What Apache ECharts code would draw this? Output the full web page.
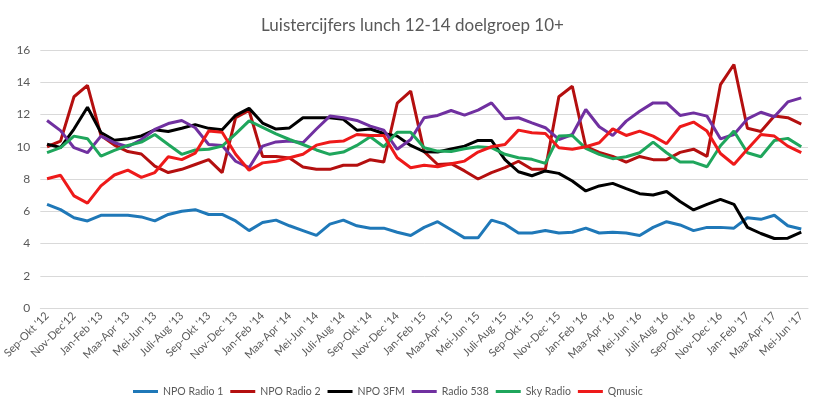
<!DOCTYPE html>
<html>
<head>
<meta charset="utf-8">
<script src="https://cdn.jsdelivr.net/npm/echarts@6/dist/echarts.min.js"></script>
<style>
  html, body { margin: 0; padding: 0; background: #fff; }
  #chart { width: 825px; height: 399px; }
</style>
</head>
<body>
<div id="chart"></div>
<script>
const categories = [
  "Sep-Okt '12", "Okt-Nov '12", "Nov-Dec'12", "Dec-Jan '13", "Jan-Feb '13", "Feb-Maa '13",
  "Maa-Apr '13", "Apr-Mei '13", "Mei-Jun '13", "Jun-Juli '13", "Juli-Aug '13", "Aug-Sep '13",
  "Sep-Okt '13", "Okt-Nov '13", "Nov-Dec '13", "Dec-Jan '14", "Jan-Feb '14", "Feb-Maa '14",
  "Maa-Apr '14", "Apr-Mei '14", "Mei-Jun '14", "Jun-Juli '14", "Juli-Aug '14", "Aug-Sep '14",
  "Sep-Okt '14", "Okt-Nov '14", "Nov-Dec '14", "Dec-Jan '15", "Jan-Feb '15", "Feb-Maa '15",
  "Maa-Apr '15", "Apr-Mei '15", "Mei-Jun '15", "Jun-Juli '15", "Juli-Aug '15", "Aug-Sep '15",
  "Sep-Okt '15", "Okt-Nov '15", "Nov-Dec '15", "Dec-Jan '16", "Jan-Feb '16", "Feb-Maa '16",
  "Maa-Apr '16", "Apr-Mei '16", "Mei-Jun '16", "Jun-Juli '16", "Juli-Aug '16", "Aug-Sep '16",
  "Sep-Okt '16", "Okt-Nov '16", "Nov-Dec '16", "Dec-Jan '17", "Jan-Feb '17", "Feb-Maa '17",
  "Maa-Apr '17", "Apr-Mei '17", "Mei-Jun '17"
]

const radio1 = [
  6.43, 6.1, 5.6, 5.4, 5.75, 5.75, 5.75, 5.65, 5.4, 5.8, 6.0, 6.1, 5.8, 5.8, 5.4, 4.8,
  5.3, 5.45, 5.1, 4.8, 4.5, 5.2, 5.45, 5.1, 4.95, 4.95, 4.7, 4.5, 5.0, 5.35, 4.85, 4.35,
  4.35, 5.45, 5.2, 4.65, 4.65, 4.8, 4.65, 4.7, 4.95, 4.65, 4.7, 4.65, 4.5, 5.0, 5.35, 5.15,
  4.8, 5.0, 5.0, 4.95, 5.6, 5.5, 5.75, 5.1, 4.9
]
const radio2 = [
  10.0, 10.35, 13.1, 13.8, 10.7, 10.1, 9.7, 9.55, 8.8, 8.4, 8.6, 8.9, 9.2, 8.4, 11.8, 12.25,
  9.4, 9.4, 9.3, 8.75, 8.6, 8.6, 8.85, 8.85, 9.2, 9.05, 12.7, 13.45, 9.7, 8.9, 8.95, 8.5,
  8.0, 8.4, 8.7, 9.1, 8.6, 8.6, 13.1, 13.75, 10.0, 9.65, 9.4, 9.05, 9.4, 9.2, 9.2, 9.65,
  9.85, 9.4, 13.85, 15.1, 11.15, 10.95, 11.9, 11.8, 11.4
]
const npo3fm = [
  10.16, 9.95, 11.1, 12.45, 10.88, 10.4, 10.5, 10.67, 11.05, 10.95, 11.15, 11.37, 11.14, 11.06, 11.95, 12.38,
  11.47, 11.1, 11.17, 11.8, 11.8, 11.8, 11.7, 11.03, 11.1, 10.82, 10.66, 10.08, 9.69, 9.67, 9.86, 10.04,
  10.39, 10.39, 9.2, 8.45, 8.2, 8.5, 8.35, 7.88, 7.26, 7.57, 7.73, 7.4, 7.09, 7.01, 7.22, 6.6,
  6.08, 6.43, 6.74, 6.43, 5.0, 4.62, 4.31, 4.33, 4.7
]
const radio538 = [
  11.63, 11.0, 9.94, 9.63, 10.66, 10.25, 10.0, 10.45, 11.07, 11.44, 11.63, 11.18, 10.14, 10.08, 9.1, 8.7,
  10.04, 10.3, 10.35, 10.25, 11.1, 11.9, 11.8, 11.63, 11.28, 11.03, 9.84, 10.45, 11.8, 11.94, 12.25, 11.96,
  12.27, 12.72, 11.73, 11.8, 11.48, 11.18, 10.45, 10.76, 12.31, 11.24, 10.7, 11.59, 12.2, 12.72, 12.72, 11.94,
  12.1, 11.9, 10.49, 10.76, 11.73, 12.14, 11.86, 12.78, 13.03
]
const skyRadio = [
  9.63, 9.94, 10.66, 10.5, 9.42, 9.77, 10.08, 10.29, 10.76, 10.14, 9.53, 9.8, 9.84, 10.04, 10.8, 11.6,
  11.2, 10.8, 10.45, 10.14, 9.8, 9.53, 9.67, 10.08, 10.62, 10.0, 10.9, 10.9, 9.94, 9.73, 9.7, 9.88,
  10.0, 9.94, 9.53, 9.32, 9.22, 8.97, 10.66, 10.7, 9.9, 9.53, 9.26, 9.38, 9.63, 10.29, 9.63, 9.05,
  9.05, 8.76, 10.06, 10.97, 9.63, 9.38, 10.39, 10.52, 10.0
]
const qmusic = [
  8.02, 8.23, 6.95, 6.5, 7.57, 8.25, 8.55, 8.1, 8.4, 9.38, 9.2, 9.6, 10.97, 10.9, 9.53, 8.54,
  9.0, 9.1, 9.32, 9.53, 10.1, 10.29, 10.35, 10.76, 10.7, 10.7, 9.32, 8.7, 8.85, 8.76, 8.94, 9.11,
  9.67, 10.0, 10.14, 11.03, 10.87, 10.82, 9.94, 9.84, 10.0, 10.25, 11.11, 10.7, 10.97, 10.66, 10.19, 11.24,
  11.53, 10.97, 9.58, 8.9, 9.85, 10.76, 10.66, 10.04, 9.63
]

const yTicks = { min: 0, max: 16, interval: 2 }

const font = 'Lato, "Open Sans", sans-serif'
const textColor = '#595959'

const lines = [
  { name: 'NPO Radio 1', data: radio1, color: '#1F78B8' },
  { name: 'NPO Radio 2', data: radio2, color: '#B40F0F' },
  { name: 'NPO 3FM', data: npo3fm, color: '#000000' },
  { name: 'Radio 538', data: radio538, color: '#7030A0' },
  { name: 'Sky Radio', data: skyRadio, color: '#1FA65C' },
  { name: 'Qmusic', data: qmusic, color: '#EE1A1A' },
]

const chart = echarts.init(document.getElementById('chart'), null, { renderer: 'canvas' })

const option = {
  animation: false,
  backgroundColor: '#ffffff',
  title: {
    text: 'Luistercijfers lunch 12-14 doelgroep 10+',
    left: 'center',
    top: 12,
    textStyle: { fontFamily: font, fontSize: 17, fontWeight: 'normal', color: textColor },
  },
  legend: {
    top: 381,
    left: 128,
    itemWidth: 25,
    itemHeight: 3,
    itemGap: 7,
    icon: 'rect',
    data: lines.map(l => l.name),
    textStyle: { fontFamily: font, fontSize: 10.5, color: textColor },
  },
  grid: {
    left: 40,
    right: 17,
    top: 50,
    bottom: 91,
  },
  xAxis: {
    type: 'category',
    data: categories,
    boundaryGap: true,
    axisLine: { show: true, lineStyle: { color: '#D9D9D9' } },
    axisTick: { show: false },
    axisLabel: {
      interval: 1,
      rotate: 45,
      margin: 6,
      fontFamily: font,
      fontSize: 11,
      color: textColor,
    },
  },
  yAxis: {
    type: 'value',
    min: yTicks.min,
    max: yTicks.max,
    interval: yTicks.interval,
    axisLine: { show: false },
    axisTick: { show: false },
    axisLabel: { margin: 10, fontFamily: font, fontSize: 12, color: textColor },
    splitLine: { lineStyle: { color: '#D9D9D9', width: 1 } },
  },
  series: lines.map(l => ({
    name: l.name,
    type: 'line',
    data: l.data,
    showSymbol: false,
    symbol: 'none',
    lineStyle: { color: l.color, width: 3 },
    itemStyle: { color: l.color },
  })),
}

chart.setOption(option)
</script>
</body>
</html>
